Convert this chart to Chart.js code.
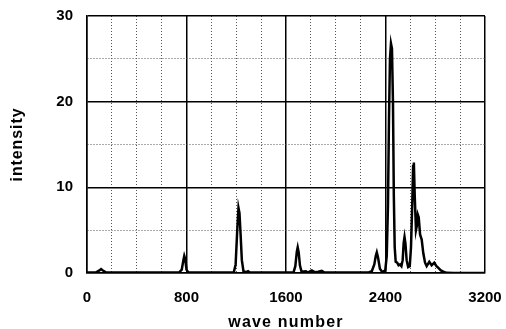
<!DOCTYPE html>
<html>
<head>
<meta charset="utf-8">
<script src="https://cdn.jsdelivr.net/npm/chart.js@4"></script>
<style>
  html, body { margin: 0; padding: 0; background: #fff; }
  #wrap { width: 506px; height: 329px; }
</style>
</head>
<body>
<div id="wrap"><canvas id="spectrumChart"></canvas></div>
<script>
// spectrum (wave number -> intensity)
const waveNumbers = [
  0, 70, 100, 113, 128, 155,
  740, 762, 775, 782, 790, 800, 815,
  1180, 1195, 1208, 1218, 1226, 1235, 1245, 1258, 1280, 1295, 1310,
  1660, 1675, 1687, 1694, 1702, 1712, 1725, 1760, 1775, 1807, 1830, 1860, 1887, 1910,
  2260, 2290, 2310, 2322, 2330, 2340, 2355, 2375,
  2398, 2410, 2420, 2428, 2436, 2444, 2452, 2460, 2467, 2474, 2482,
  2494, 2505, 2517, 2528, 2538, 2546, 2553, 2560, 2570, 2582,
  2595, 2605, 2615, 2622, 2628, 2635, 2645, 2652, 2660, 2667, 2678, 2691, 2704, 2718,
  2731, 2752, 2771, 2792, 2810, 2825, 2845, 2865, 2892, 2950, 3200
];
const intensities = [
  0.05, 0.05, 0.3, 0.45, 0.3, 0.05,
  0.05, 0.4, 1.5, 2.0, 1.6, 0.4, 0.05,
  0.05, 1.0, 5.0, 7.6, 7.0, 4.5, 1.5, 0.2, 0.1, 0.2, 0.05,
  0.05, 0.8, 2.5, 3.0, 2.4, 0.9, 0.15, 0.2, 0.05, 0.3, 0.1, 0.15, 0.25, 0.05,
  0.05, 0.2, 1.0, 2.0, 2.4, 1.8, 0.5, 0.1,
  0.3, 2, 8, 18, 25, 26.8, 26.2, 20, 9, 3, 1.3,
  1.2, 0.9, 1.0, 0.8, 1.5, 3.5, 4.2, 3.5, 1.5, 0.7,
  0.8, 3, 8, 12.5, 12.9, 9, 5, 5.5, 6.8, 6.5, 4.5, 3.9, 2.3, 1.2,
  0.8, 1.3, 0.9, 1.2, 0.8, 0.6, 0.3, 0.15, 0.02, 0, 0
];
const xTickLabels = [0, 800, 1600, 2400, 3200];
const yTickLabels = [0, 10, 20, 30];
const xTitle = 'wave number';
const yTitle = 'intensity';

const tickFont = { family: '"Liberation Sans", Arial, sans-serif', size: 15, weight: 'bold' };

function isMajorX(v) { return xTickLabels.includes(v); }
function isMajorY(v) { return yTickLabels.includes(v); }

// titles are drawn by hand so that they can get the letter spacing of the original
const axisTitles = {
  id: 'axisTitles',
  afterDraw(chart) {
    const { ctx, chartArea } = chart;
    ctx.save();
    ctx.fillStyle = '#000';
    ctx.font = 'bold 16px "Liberation Sans", Arial, sans-serif';
    ctx.letterSpacing = '1.2px';
    ctx.textAlign = 'center';
    ctx.textBaseline = 'alphabetic';
    ctx.fillText(xTitle, (chartArea.left + chartArea.right) / 2, 327);
    ctx.letterSpacing = '0.9px';
    ctx.translate(22, (chartArea.top + chartArea.bottom) / 2);
    ctx.rotate(-Math.PI / 2);
    ctx.fillText(yTitle, 0, 0);
    ctx.restore();
  }
};

const ctx = document.getElementById('spectrumChart').getContext('2d');
new Chart(ctx, {
  type: 'line',
  data: {
    datasets: [{
      data: waveNumbers.map((x, i) => ({ x: x, y: intensities[i] })),
      borderColor: '#000',
      borderWidth: 2.5,
      pointRadius: 0,
      tension: 0,
      fill: false
    }]
  },
  options: {
    responsive: true,
    maintainAspectRatio: false,
    animation: false,
    layout: { padding: { top: 16, right: 21, bottom: 0, left: 0 } },
    plugins: { legend: { display: false }, tooltip: { enabled: false } },
    scales: {
      x: {
        type: 'linear',
        min: 0,
        max: 3200,
        afterFit: (scale) => {
          scale.height = 56;
          scale.paddingLeft = 0;
          scale.paddingRight = 0;
        },
        ticks: {
          stepSize: 200,
          autoSkip: false,
          maxRotation: 0,
          padding: 16,
          color: '#000',
          font: tickFont,
          callback: (v) => isMajorX(v) ? String(v) : ''
        },
        grid: {
          drawTicks: false,
          color: (c) => (c.tick && !isMajorX(c.tick.value)) ? '#555' : '#000',
          lineWidth: (c) => (c.tick && !isMajorX(c.tick.value)) ? 1 : 1.5
        },
        border: {
          color: '#000',
          width: 1.5,
          dash: (c) => (c.tick && !isMajorX(c.tick.value)) ? [1, 2] : []
        }
      },
      y: {
        min: 0,
        max: 30,
        afterFit: (scale) => {
          scale.width = 87;
          scale.paddingTop = 0;
          scale.paddingBottom = 0;
        },
        ticks: {
          stepSize: 5,
          autoSkip: false,
          padding: 14,
          color: '#000',
          font: tickFont,
          callback: (v) => isMajorY(v) ? String(v) : ''
        },
        grid: {
          drawTicks: false,
          color: (c) => (c.tick && !isMajorY(c.tick.value)) ? '#555' : '#000',
          lineWidth: (c) => (c.tick && !isMajorY(c.tick.value)) ? 1 : 1.5
        },
        border: {
          color: '#000',
          width: 1.5,
          dash: (c) => (c.tick && !isMajorY(c.tick.value)) ? [1, 2] : []
        }
      }
    }
  },
  plugins: [axisTitles]
});
</script>
</body>
</html>
